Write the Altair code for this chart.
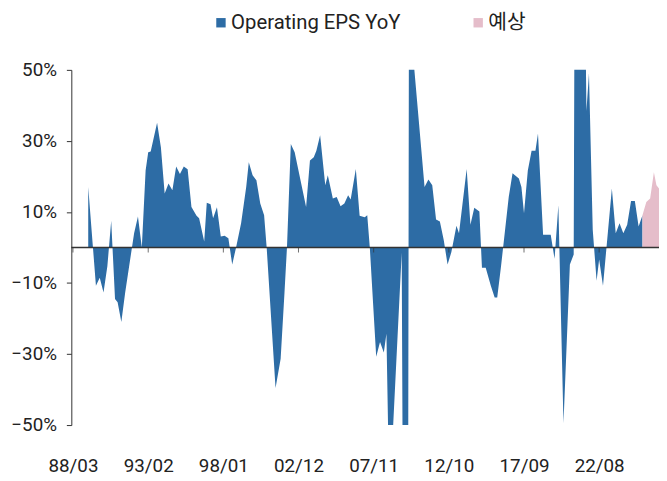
import altair as alt
import pandas as pd

# ---- data (percent YoY) ----
actual_dates = [
    "1989-03", "1989-09", "1989-12", "1990-03", "1990-06", "1990-09", "1990-12", "1991-02",
    "1991-05", "1991-08", "1992-03", "1992-06", "1992-09", "1992-12", "1993-02", "1993-04",
    "1993-09", "1993-12", "1994-03", "1994-06", "1994-09", "1994-12", "1995-03", "1995-06",
    "1995-09", "1995-12", "1996-04", "1996-06", "1996-10", "1996-12", "1997-03", "1997-05",
    "1997-08", "1997-11", "1998-02", "1998-05", "1998-08", "1998-11", "1999-03", "1999-07",
    "1999-09", "1999-12", "2000-03", "2000-06", "2000-09", "2000-11", "2001-06", "2001-10",
    "2002-01", "2002-03", "2002-06", "2002-09", "2003-06", "2003-09", "2003-12", "2004-02",
    "2004-05", "2004-09", "2004-11", "2005-03", "2005-06", "2005-09", "2005-12", "2006-03",
    "2006-05", "2006-09", "2006-12", "2007-04", "2007-06", "2007-08", "2008-01", "2008-04",
    "2008-07", "2008-09", "2008-11", "2009-02", "2009-09", "2009-10", "2010-02", "2010-03",
    "2010-05", "2010-06", "2011-03", "2011-06", "2011-09", "2011-12", "2012-03", "2012-06",
    "2012-09", "2012-12", "2013-04", "2013-06", "2013-12", "2014-03", "2014-06", "2014-10",
    "2014-12", "2015-03", "2015-07", "2015-10", "2015-12", "2016-03", "2016-09", "2016-12",
    "2017-05", "2017-07", "2017-09", "2017-12", "2018-03", "2018-06", "2018-08", "2018-12",
    "2019-06", "2019-09", "2019-12", "2020-04", "2020-09", "2020-12", "2021-01", "2021-05",
    "2021-09", "2021-10", "2021-12", "2022-03", "2022-06", "2022-08", "2022-11", "2023-06",
    "2023-09", "2023-12", "2024-03", "2024-06", "2024-09", "2024-12", "2025-03", "2025-06",
]
actual_values = [
    17, -10.8, -8.5, -12.7, -5.3, 7.5, -14.5, -15.4,
    -21, -12.7, 4, 8.7, 0, 21.7, 26.8, 27,
    35.1, 28.2, 15.2, 18, 16.1, 22.8, 20.7, 22.8,
    22, 11.4, 8.9, 8.2, 1.7, 12.6, 12.2, 8.2,
    11.3, 3.1, 3.3, 2.6, -4.8, 0, 6.8, 17,
    24, 20.3, 18.9, 12.4, 9.1, 0, -39.6, -31.3,
    -12.7, 0, 29.1, 26.8, 11.4, 24.5, 25.4, 27.2,
    31.6, 17.5, 20.3, 13.8, 14.2, 11.6, 12.4, 14.7,
    13.5, 22.1, 8.9, 8.5, 9.1, 0, -30.8, -26.6,
    -29.6, -24.3, -65, -52, -1.5, -80, -80, 130,
    90, 54, 17, 19.1, 17.5, 7.9, 7.3, 2.1,
    -4.8, -1.3, 6.1, 4, 22.1, 6.4, 11.2, 10.1,
    -5.7, -5.7, -10.8, -14.1, -14.1, -5.3, 14.2, 20.9,
    19.4, 17, 9.6, 21.7, 27.2, 27.2, 32.1, 3.6,
    3.6, -3.2, 11.9, -49.4, -4.8, -2, 110, 150,
    70, 38.4, 49, 5, -9.4, -3.4, -10.8, 16.6,
    4, 6.8, 4, 6.4, 13.1, 13.1, 5.9, 9.1,
]
forecast_dates = ["2025-06", "2025-09", "2025-12", "2026-03", "2026-05", "2026-07"]
forecast_values = [9.1, 12.8, 13.8, 21.2, 17.5, 16.6]

series_names = ["Operating EPS YoY", "예상"]
series_colors = ["#2D6CA5", "#E5BDCA"]
x_tick_dates = ["1988-03", "1993-02", "1998-01", "2002-12", "2007-11", "2012-10", "2017-09", "2022-08"]
y_ticks = [-50, -30, -10, 10, 30, 50]

FONT = "Roboto, 'Noto Sans CJK KR', sans-serif"
TEXT = "#222222"
AXIS = "#333333"

df = pd.concat([
    pd.DataFrame({"date": actual_dates, "value": actual_values, "series": series_names[0]}),
    pd.DataFrame({"date": forecast_dates, "value": forecast_values, "series": series_names[1]}),
], ignore_index=True)
df["date"] = pd.to_datetime(df["date"], format="%Y-%m")

ticks_df = pd.DataFrame({"date": pd.to_datetime(x_tick_dates, format="%Y-%m"), "value": 0})
zero_df = pd.DataFrame({"value": [0]})


def dt(s):
    d = pd.Timestamp(s)
    return alt.DateTime(year=d.year, month=d.month, date=d.day)


x_scale = alt.Scale(domain=[dt("1988-01-22"), dt("2026-07-01")])
y_scale = alt.Scale(domain=[-50, 50], nice=False)

x_axis = alt.Axis(
    values=[dt(s) for s in x_tick_dates],
    format="%y/%m",
    title=None,
    grid=False,
    domain=False,
    ticks=False,
    labelPadding=32,
    labelFontSize=19,
    labelFont=FONT,
    labelColor=TEXT,
    labelFlush=False,
    labelOverlap=False,
)
y_axis = alt.Axis(
    values=y_ticks,
    labelExpr="datum.label + '%'",
    title=None,
    grid=False,
    domain=True,
    domainColor=AXIS,
    tickColor=AXIS,
    tickSize=5,
    labelPadding=10,
    labelFontSize=19,
    labelFont=FONT,
    labelColor=TEXT,
)

area = alt.Chart(df).mark_area(clip=True, interpolate="linear").encode(
    x=alt.X("date:T", scale=x_scale, axis=x_axis),
    y=alt.Y("value:Q", scale=y_scale, stack=None, axis=y_axis),
    color=alt.Color(
        "series:N",
        scale=alt.Scale(domain=series_names, range=series_colors),
        legend=alt.Legend(
            title=None,
            orient="none",
            legendX=141,
            legendY=-58,
            direction="horizontal",
            symbolType="square",
            symbolSize=90,
            symbolStrokeWidth=0,
            symbolOpacity=1,
            labelFontSize=20.5,
            labelFont=FONT,
            labelColor=TEXT,
            labelOffset=0,
            labelLimit=400,
            columnPadding=68,
            padding=0,
        ),
    ),
)

zero_line = alt.Chart(zero_df).mark_rule(color=AXIS, strokeWidth=1.5).encode(
    y=alt.Y("value:Q", scale=y_scale, axis=y_axis)
)

zero_ticks = alt.Chart(ticks_df).mark_tick(
    orient="vertical", size=5, thickness=1, color=AXIS, yOffset=2.5
).encode(
    x=alt.X("date:T", scale=x_scale, axis=x_axis),
    y=alt.Y("value:Q", scale=y_scale, axis=y_axis),
)

chart = alt.layer(area, zero_line, zero_ticks).properties(
    width=594,
    height=359,
    autosize=alt.AutoSizeParams(type="none"),
    padding={"left": 64, "top": 60, "right": 0, "bottom": 53},
    background="white",
).configure_view(stroke=None)

chart.save("out.html", embed_options={"renderer": "svg", "actions": False})
